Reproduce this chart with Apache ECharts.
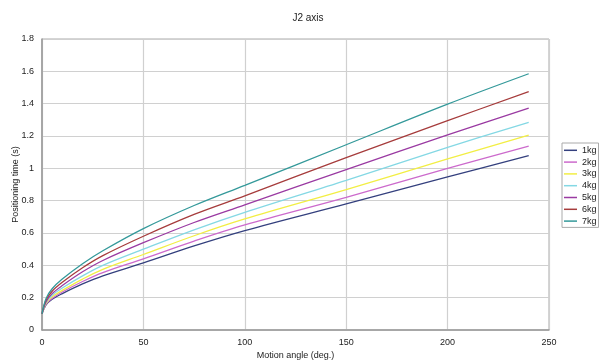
<!DOCTYPE html>
<html>
<head>
<meta charset="utf-8">
<script src="https://cdn.jsdelivr.net/npm/echarts@6/dist/echarts.min.js"></script>
<style>
  html, body { margin: 0; padding: 0; background: #fff; }
  #main { width: 600px; height: 360px; }
</style>
</head>
<body>
<div id="main"></div>
<script>
// motion angle (deg.) sample points
let angles = [0, 2, 5, 10, 20, 30, 50, 75, 100, 150, 200, 240];

// positioning time (s)
let kg1 = [0.10, 0.155, 0.19, 0.225, 0.285, 0.335, 0.415, 0.52, 0.615, 0.78, 0.947, 1.079];
let kg2 = [0.10, 0.16, 0.195, 0.235, 0.30, 0.355, 0.44, 0.55, 0.65, 0.82, 1.0, 1.137];
let kg3 = [0.10, 0.165, 0.205, 0.245, 0.315, 0.375, 0.467, 0.583, 0.687, 0.868, 1.058, 1.205];
let kg4 = [0.10, 0.17, 0.215, 0.26, 0.335, 0.40, 0.50, 0.62, 0.728, 0.926, 1.13, 1.285];
let kg5 = [0.10, 0.175, 0.225, 0.275, 0.36, 0.43, 0.54, 0.665, 0.774, 0.992, 1.207, 1.372];
let kg6 = [0.10, 0.185, 0.24, 0.295, 0.385, 0.46, 0.58, 0.715, 0.83, 1.066, 1.295, 1.474];
let kg7 = [0.10, 0.195, 0.255, 0.315, 0.41, 0.49, 0.627, 0.77, 0.895, 1.146, 1.397, 1.585];

let names = ['1kg', '2kg', '3kg', '4kg', '5kg', '6kg', '7kg'];
let colors = ['#34407e', '#cc6acc', '#f2ee44', '#84d8e4', '#9a3aa2', '#a63c3c', '#34999a'];
let allSeries = [kg1, kg2, kg3, kg4, kg5, kg6, kg7];

let app = {};
app.font = 'Liberation Sans, Arial, sans-serif';

app.pairs = function(vals){
    return vals.map((v, i) => [angles[i], v]);
};

let series = [];
for(let i = 0; i < names.length; i++){
    series.push({
        name: names[i],
        type: 'line',
        data: app.pairs(allSeries[i]),
        symbol: 'none',
        smooth: 0.35,
        lineStyle: { color: colors[i], width: 1.3 },
        itemStyle: { color: colors[i] }
    });
}

var myChart = echarts.init(document.getElementById('main'));
myChart.setOption({
    backgroundColor: '#fff',
    animation: false,
    title: {
        text: 'J2 axis',
        left: 303,
        top: 8,
        textAlign: 'center',
        textStyle: { fontSize: 10, fontWeight: 'normal', color: '#222', fontFamily: app.font }
    },
    legend: {
        orient: 'vertical',
        left: 562,
        top: 143,
        data: names,
        icon: 'rect',
        itemWidth: 13,
        itemHeight: 1.5,
        itemGap: 1.2,
        padding: [2, 2, 1, 2],
        borderColor: '#aaa',
        borderWidth: 1,
        textStyle: { fontSize: 9, lineHeight: 10.6, color: '#222', fontFamily: app.font }
    },
    grid: {
        left: 42,
        right: 51,
        top: 39,
        bottom: 30,
        outerBoundsMode: 'none',
        containLabel: false,
        show: true,
        borderColor: '#aaa',
        borderWidth: 1
    },
    xAxis: {
        type: 'value',
        min: 0,
        max: 250,
        interval: 50,
        name: 'Motion angle (deg.)',
        nameLocation: 'middle',
        nameGap: 21,
        nameMoveOverlap: false,
        nameTextStyle: { fontSize: 9, color: '#222', fontFamily: app.font },
        axisLine: { lineStyle: { color: '#999', width: 1.5 } },
        axisTick: { show: false },
        axisLabel: { fontSize: 9, color: '#222', margin: 8, fontFamily: app.font },
        splitLine: { lineStyle: { color: '#d0d0d0', width: 1.2 } }
    },
    yAxis: {
        type: 'value',
        min: 0,
        max: 1.8,
        interval: 0.2,
        name: 'Positioning time (s)',
        nameLocation: 'middle',
        nameGap: 22,
        nameMoveOverlap: false,
        nameTextStyle: { fontSize: 9, color: '#222', fontFamily: app.font },
        axisLine: { show: true, lineStyle: { color: '#999', width: 1.5 } },
        axisTick: { show: false },
        axisLabel: {
            fontSize: 9, color: '#222', margin: 8, fontFamily: app.font,
            formatter: function(v){ return String(Math.round(v * 10) / 10); }
        },
        splitLine: { lineStyle: { color: '#d0d0d0', width: 1.2 } }
    },
    series: series
});
</script>
</body>
</html>
